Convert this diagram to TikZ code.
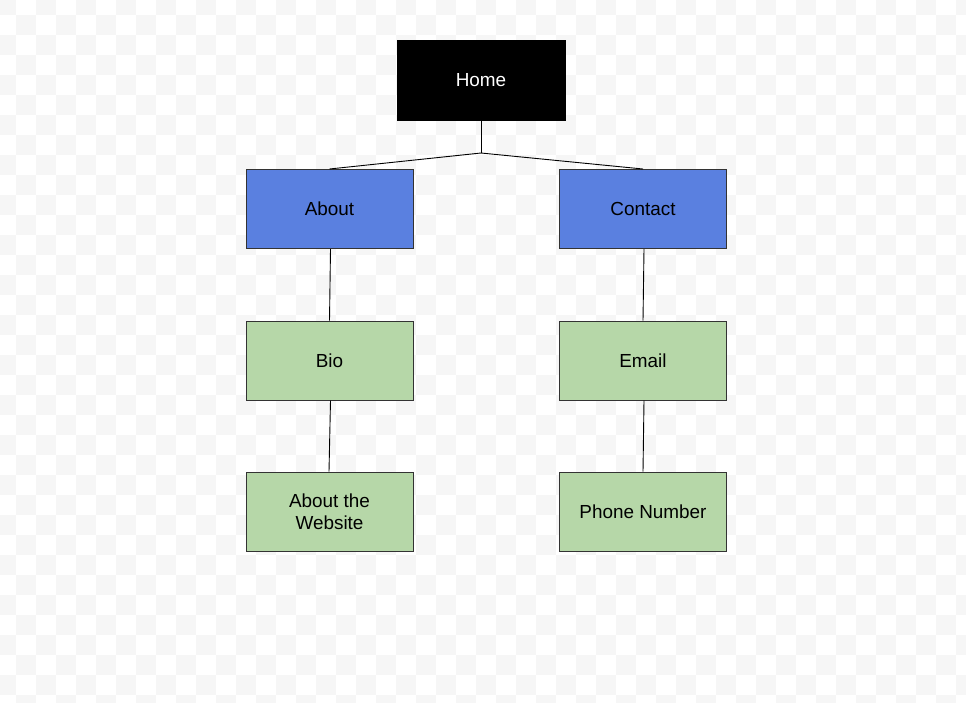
\documentclass[tikz,border=0pt]{standalone}
\usepackage{fontspec}
\setmainfont{Liberation Sans}
\definecolor{checkgray}{HTML}{F6F6F6}
\definecolor{boxline}{HTML}{333333}
\definecolor{blueboxc}{HTML}{5A80E0}
\definecolor{greenboxc}{HTML}{B6D7A8}
\tikzset{
  box/.style={rectangle, draw=boxline, line width=1pt, minimum width=167pt, minimum height=79pt, inner sep=2pt, align=center, font=\fontsize{18.9}{22}\selectfont},
  homebox/.style={box, fill=black, draw=black, text=white, minimum width=168pt, minimum height=80pt},
  bluebox/.style={box, fill=blueboxc},
  greenbox/.style={box, fill=greenboxc},
  link/.style={draw=black, line width=0.9pt}
}
\begin{document}
\begin{tikzpicture}[x=1pt,y=-1pt]
\useasboundingbox (0,0) rectangle (966,702);
\fill[white] (0,0) rectangle (966,702);
\begin{scope}
\clip (0,0) rectangle (966,702);
\foreach \i in {0,...,48} {
  \foreach \j in {0,...,35} {
    \pgfmathtruncatemacro\myparity{mod(\i+\j,2)}
    \ifnum\myparity=0
      \fill[checkgray] (-4+20*\i,-5+20*\j) rectangle ++(20,20);
    \fi
  }
}
\end{scope}
\node[homebox] (home) at (481,80.5) {Home};
\node[bluebox] (about) at (329.5,209) {About};
\node[bluebox] (contact) at (643,209) {Contact};
\node[greenbox] (bio) at (329.5,360.5) {Bio};
\node[greenbox] (email) at (643,360.5) {Email};
\node[greenbox] (website) at (329.5,511.5) {About the\\Website};
\node[greenbox] (phone) at (643,511.5) {Phone Number};
\coordinate (junc) at (481,153);
\draw[link] (home.south) -- (junc);
\draw[link] (junc) -- (about.north);
\draw[link] (junc) -- (contact.north);
\draw[link] ([xshift=1pt]about.south) -- (bio.north);
\draw[link] ([xshift=1pt]bio.south) -- ([xshift=-0.5pt]website.north);
\draw[link] ([xshift=1pt]contact.south) -- (email.north);
\draw[link] ([xshift=1pt]email.south) -- (phone.north);
\end{tikzpicture}
\end{document}
